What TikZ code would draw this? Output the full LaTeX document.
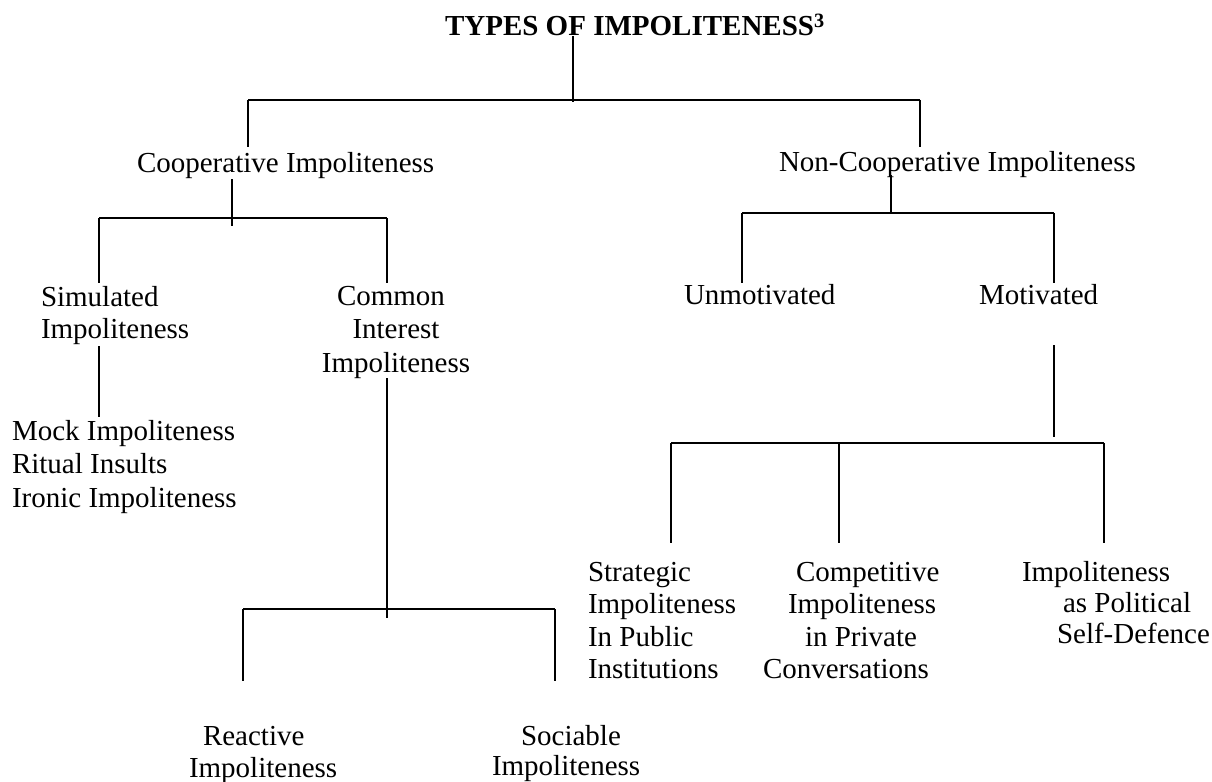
\documentclass[tikz,border=0pt]{standalone}
\usepackage{fontspec}
\setmainfont{Liberation Serif}
\newcommand\diagfont{\fontsize{29bp}{32.5bp}\selectfont}
\newcommand\widefont{\fontsize{29bp}{33.5bp}\selectfont}
\begin{document}
\begin{tikzpicture}[x=1bp,y=-1bp,line width=2bp,
  lbl/.style={inner sep=0pt,outer sep=0pt,anchor=base west,align=left,font=\diagfont},
  wide/.style={lbl,font=\widefont},
  tie/.style={line width=2bp,line cap=butt}]
\useasboundingbox[fill=white] (0,0) rectangle (1212,782);

% ---- labels (multi-line labels are placed by the baseline of their last line) ----
\node[lbl] (title) at (445,36) {\textbf{TYPES OF IMPOLITENESS\textsuperscript{3}}};
\node[lbl] (coop) at (137,172) {Cooperative Impoliteness};
\node[lbl] (noncoop) at (779,171) {Non-Cooperative Impoliteness};
\node[lbl] (sim) at (41,338.5) {Simulated\\Impoliteness};
\node[wide,anchor=base,align=center] (com) at (396,372) {Common\hspace*{10bp}\\Interest\hspace*{4bp}\\Impoliteness};
\node[lbl] (unmot) at (684,304) {Unmotivated};
\node[lbl] (mot) at (979,304) {Motivated};
\node[wide] (mock) at (12,507) {Mock Impoliteness\\Ritual Insults\\Ironic Impoliteness};
\node[lbl] (strat) at (588,678.5) {Strategic\\Impoliteness\\In Public\\Institutions};
\node[lbl] (compet) at (763,678.5) {\hspace*{33bp}Competitive\\\hspace*{25bp}Impoliteness\\\hspace*{42bp}in Private\\Conversations};
\node[lbl,font=\fontsize{29bp}{31bp}\selectfont] (polit) at (1022,643) {Impoliteness\\\hspace*{41bp}as Political\\\hspace*{35bp}Self-Defence};
\node[lbl] (react) at (189,777.5) {\hspace*{14bp}Reactive\\Impoliteness};
\node[lbl,font=\fontsize{29bp}{30bp}\selectfont] (soc) at (492,775) {\hspace*{29bp}Sociable\\Impoliteness};

% ---- junction points ----
\coordinate (r0) at (572.7,100);
\coordinate (r0l) at (248,100);
\coordinate (r0r) at (920,100);
\coordinate (c0) at (232,218);
\coordinate (c0l) at (99,218);
\coordinate (c0r) at (387,218);
\coordinate (n0) at (891,213);
\coordinate (n0l) at (742,213);
\coordinate (n0r) at (1054,213);
\coordinate (s0) at (99,417);
\coordinate (k0) at (387,609);
\coordinate (k0l) at (243,609);
\coordinate (k0r) at (555,609);
\coordinate (m0) at (1054,437);
\coordinate (m1) at (1054,443);
\coordinate (m1l) at (671,443);
\coordinate (m1c) at (839,443);
\coordinate (m1r) at (1104,443);

% ---- root bracket ----
\draw[tie] (r0 |- title.base) -- ([yshift=-2bp]r0);
\draw[tie] (r0l) -- (r0r);
\draw[tie] (r0l) -- (r0l |- 0,147);
\draw[tie] (r0r) -- (r0r |- 0,147);

% ---- cooperative bracket ----
\draw[tie] (c0 |- 0,179) -- ([yshift=-8bp]c0);
\draw[tie] (c0l) -- (c0r);
\draw[tie] (c0l) -- (c0l |- 0,283);
\draw[tie] (c0r) -- (c0r |- 0,283);

% ---- non-cooperative bracket ----
\draw[tie] (n0 |- 0,175) -- (n0);
\draw[tie] (n0l) -- (n0r);
\draw[tie] (n0l) -- (n0l |- 0,283);
\draw[tie] (n0r) -- (n0r |- 0,283);

% ---- simulated ----
\draw[tie] (s0 |- 0,346) -- (s0);

% ---- common interest bracket ----
\draw[tie] (k0 |- 0,378) -- ([yshift=-9bp]k0);
\draw[tie] (k0l) -- (k0r);
\draw[tie] (k0l) -- (k0l |- 0,681);
\draw[tie] (k0r) -- (k0r |- 0,681);

% ---- motivated bracket ----
\draw[tie] (m0 |- 0,345) -- (m0);
\draw[tie] (m1l) -- (m1r);
\draw[tie] (m1l) -- (m1l |- 0,543);
\draw[tie] (m1c) -- (m1c |- 0,543);
\draw[tie] (m1r) -- (m1r |- 0,543);
\end{tikzpicture}
\end{document}
